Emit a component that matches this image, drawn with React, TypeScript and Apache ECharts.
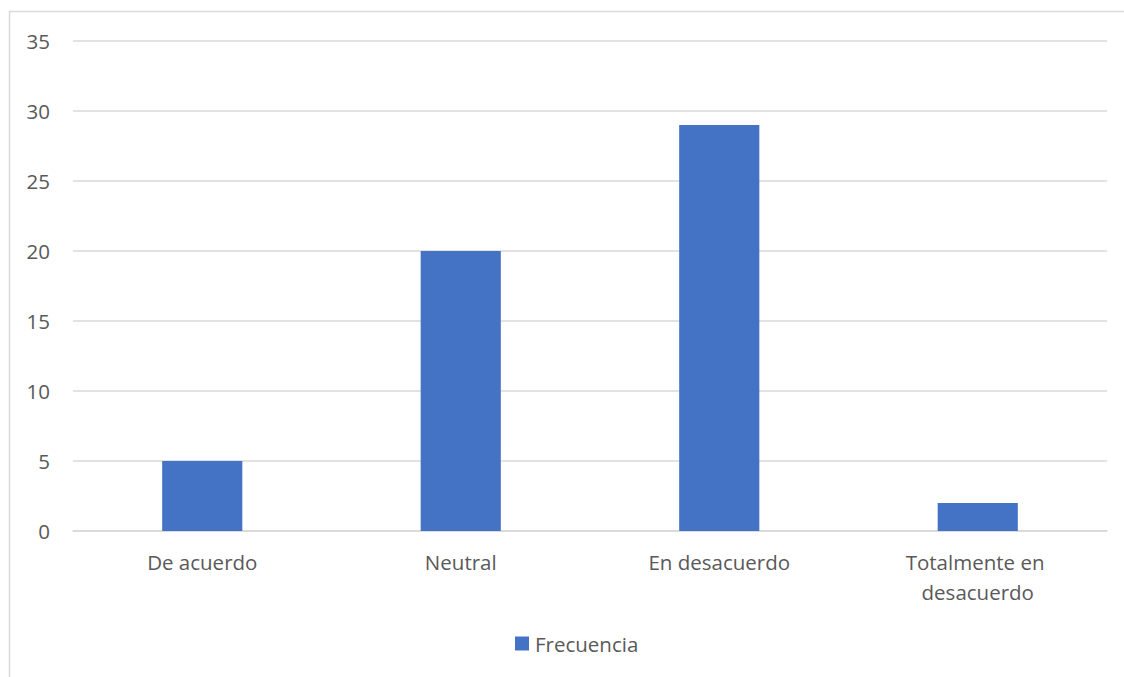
import React, { useEffect, useRef } from "react";
import * as echarts from "echarts";

const categories = ["De acuerdo", "Neutral", "En desacuerdo", "Totalmente en desacuerdo"];
const frecuencia = [5, 20, 29, 2];
const seriesName = "Frecuencia";

export default function App() {
  const ref = useRef<HTMLDivElement>(null);
  useEffect(() => {
    document.body.style.margin = "0";
    const chart = echarts.init(ref.current!, null, { renderer: "svg" });
    const font = "'Open Sans', 'Noto Sans', sans-serif";
    const fs = 20.5;
    chart.setOption({
      animation: false,
      backgroundColor: "#ffffff",
      textStyle: { fontFamily: font },
      graphic: [
        {
          type: "rect",
          shape: { x: 9.5, y: 11.5, width: 1200, height: 800 },
          style: { fill: "none", stroke: "#d9d9d9", lineWidth: 1.5 },
          silent: true,
        },
      ],
      grid: { left: 73, right: 17, top: 41, bottom: 146, containLabel: false },
      legend: {
        data: [seriesName],
        bottom: 18,
        left: 510,
        padding: [5, 5],
        icon: "rect",
        itemWidth: 14,
        itemHeight: 14,
        itemGap: 6,
        textStyle: { color: "#595959", fontSize: fs, fontFamily: font, padding: [0, 0, 0, 1] },
      },
      xAxis: {
        type: "category",
        data: categories,
        axisLine: { show: true, lineStyle: { color: "#d9d9d9", width: 1.5 } },
        axisTick: { show: false },
        axisLabel: {
          color: "#595959",
          fontSize: fs,
          fontFamily: font,
          margin: 16,
          lineHeight: 30,
          width: 170,
          overflow: "break",
          interval: 0,
        },
      },
      yAxis: {
        type: "value",
        min: 0,
        max: 35,
        interval: 5,
        axisLine: { show: false },
        axisTick: { show: false },
        splitLine: { lineStyle: { color: "#d9d9d9", width: 1.5 } },
        axisLabel: { color: "#595959", fontSize: fs, fontFamily: font, margin: 23 },
      },
      series: [
        {
          name: seriesName,
          type: "bar",
          data: frecuencia,
          barCategoryGap: "69%",
          itemStyle: { color: "#4472C4" },
        },
      ],
    });
    return () => chart.dispose();
  }, []);
  return <div ref={ref} style={{ width: 1124, height: 677 }} />;
}
